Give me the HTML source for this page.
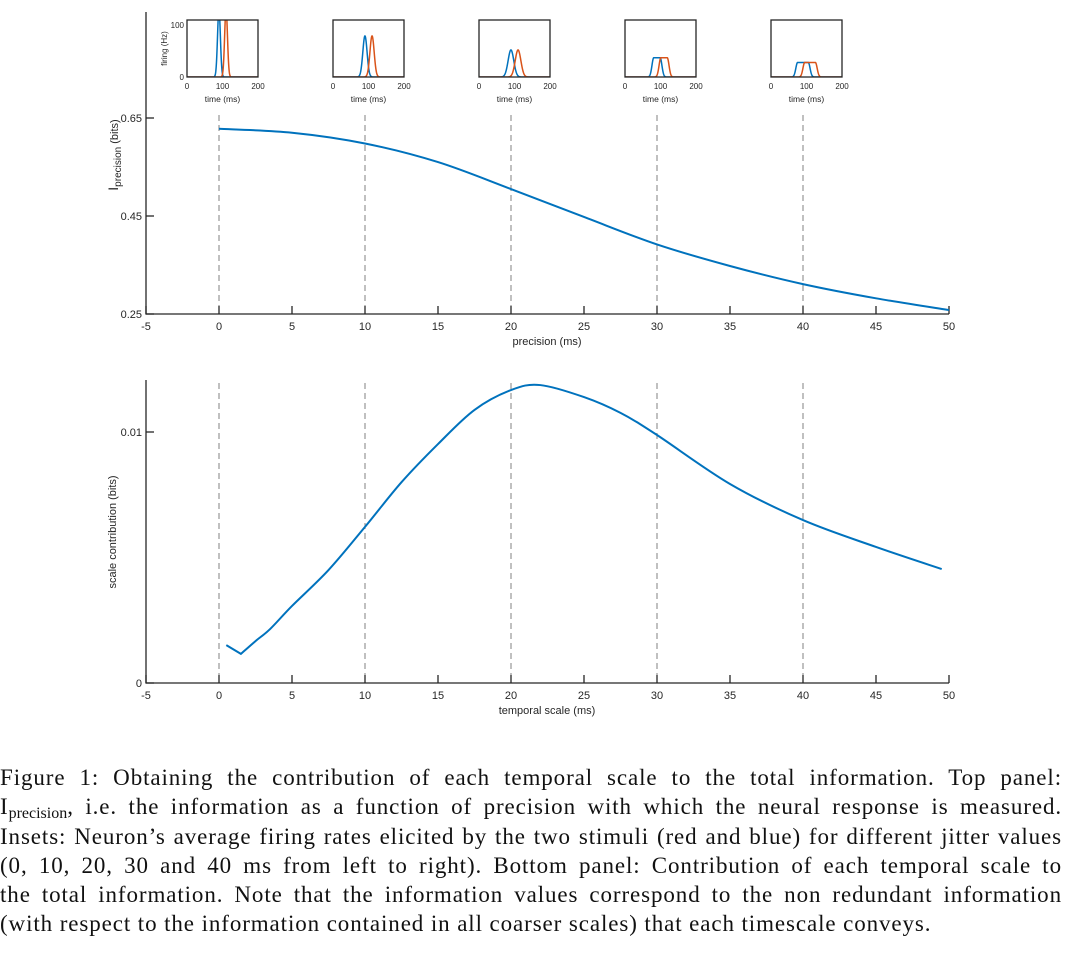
<!DOCTYPE html>
<html><head><meta charset="utf-8"><style>
body{margin:0;background:#fff;width:1071px;height:955px;overflow:hidden;position:relative}
svg text{font-family:"Liberation Sans",sans-serif;fill:#262626}
#cap{position:absolute;left:0;top:763px;width:1062px;font-family:"Liberation Serif",serif;font-size:23px;letter-spacing:0.9px;line-height:29.3px;color:#111}
#cap div{text-align:justify;text-align-last:justify;white-space:nowrap}
#cap div.last{text-align-last:left}
sub{font-size:16px;vertical-align:-4px;line-height:0;letter-spacing:0}
</style></head><body>
<svg id="fig" width="1071" height="760" style="position:absolute;left:0;top:0"></svg>
<div id="cap">
<div>Figure 1: Obtaining the contribution of each temporal scale to the total information. Top panel:</div>
<div>I<sub>precision</sub>, i.e. the information as a function of precision with which the neural response is measured.</div>
<div>Insets: Neuron’s average firing rates elicited by the two stimuli (red and blue) for different jitter values</div>
<div>(0, 10, 20, 30 and 40 ms from left to right). Bottom panel: Contribution of each temporal scale to</div>
<div>the total information. Note that the information values correspond to the non redundant information</div>
<div class="last">(with respect to the information contained in all coarser scales) that each timescale conveys.</div>
</div>
<script>
const topX=[0,5,10,15,20,25,30,35,40,45,50];
const topY=[0.628,0.620,0.598,0.560,0.505,0.448,0.392,0.348,0.311,0.282,0.258];
const botX=[0.5,1.5,2.5,3.5,5,7.5,10,12.5,15,17.5,20,22,25,27.5,30,35,40,45,49.5];
const botY=[0.00151,0.00116,0.00167,0.00215,0.00307,0.0045,0.00622,0.008,0.00952,0.01088,0.01167,0.01187,0.01139,0.01076,0.00988,0.00793,0.00649,0.00542,0.00454];
const xTicks=[-5,0,5,10,15,20,25,30,35,40,45,50];
const dashX=[0,10,20,30,40];
const insetJitter=[0,10,20,30,40];
const insetPeak=[130,79,52,37,28];
const insetSigma=[4,6,8,5,5];
const insetPlateau=[0,0,0,18,30];
const blueMean=90, redMean=110;

const NS='http://www.w3.org/2000/svg';
const svg=document.getElementById('fig');
function el(t,a,p){const e=document.createElementNS(NS,t);for(const k in a)e.setAttribute(k,a[k]);(p||svg).appendChild(e);return e;}
const X=v=>146+(v+5)*14.6;
const YT=v=>118+(0.65-v)*490;
const YB=v=>683-v*25100;
const BLUE='#0072BD',RED='#D95319',AX='#262626';

function smooth(pts,start){
  let d='M'+pts[0][0]+' '+pts[0][1];
  for(let i=start;i<pts.length-1;i++){
    const p0=pts[Math.max(i-1,0)],p1=pts[i],p2=pts[i+1],p3=pts[Math.min(i+2,pts.length-1)];
    const c1=[p1[0]+(p2[0]-p0[0])/6,p1[1]+(p2[1]-p0[1])/6],c2=[p2[0]-(p3[0]-p1[0])/6,p2[1]-(p3[1]-p1[1])/6];
    d+=`C${c1[0]} ${c1[1]} ${c2[0]} ${c2[1]} ${p2[0]} ${p2[1]}`;
  }
  return d;
}

function panel(y0,y1,yd,yticks,Y,xs,ys,xlab,name,lin){
  const g=el('g',{});
  
  
  dashX.forEach(d=>{const l=el('line',{x1:X(d),x2:X(d),y1:yd,y2:y1,stroke:'#808080','stroke-width':1,'stroke-dasharray':'6,4'},g);
    });
  const ax=el('path',{d:`M146 ${y0}V${y1}H949`,fill:'none',stroke:AX,'stroke-width':1.3},g);
  
  xTicks.forEach(t=>{el('line',{x1:X(t),x2:X(t),y1:y1,y2:y1-8,stroke:AX,'stroke-width':1.3},g);
    const tx=el('text',{x:X(t),y:y1+16,'font-size':11,'text-anchor':'middle'},g);tx.textContent=t;
    });
  yticks.forEach(t=>{el('line',{x1:146,x2:154,y1:Y(t.v),y2:Y(t.v),stroke:AX,'stroke-width':1.3},g);
    const tx=el('text',{x:142,y:Y(t.v)+4,'font-size':11,'text-anchor':'end'},g);tx.textContent=t.l;
    });
  const xl=el('text',{x:547,y:y1+31,'font-size':11,'text-anchor':'middle'},g);xl.textContent=xlab;
  
  const pts=xs.map((x,i)=>[X(x),Y(ys[i])]);
  let d;
  if(lin){d='M'+pts[0][0]+' '+pts[0][1]+'L'+pts[1][0]+' '+pts[1][1];const rest=pts.slice(1);d+=smooth(rest,0).replace(/^M[^C]*/,'');}
  else d=smooth(pts,0);
  const ln=el('path',{d:d,fill:'none',stroke:BLUE,'stroke-width':2},g);
  
  return g;
}
panel(12,314,115,[{v:0.65,l:'0.65'},{v:0.45,l:'0.45'},{v:0.25,l:'0.25'}],YT,topX,topY,'precision (ms)','top-panel',false);
panel(380,683,383,[{v:0.01,l:'0.01'},{v:0,l:'0'}],YB,botX,botY,'temporal scale (ms)','bottom-panel',true);
let t=el('text',{transform:'translate(118,155) rotate(-90)','font-size':11,'text-anchor':'middle'});
t.innerHTML='<tspan font-size="14">I</tspan><tspan font-size="10" dy="3">precision</tspan><tspan dy="-3"> (bits)</tspan>';

t=el('text',{transform:'translate(116,532) rotate(-90)','font-size':11,'text-anchor':'middle'});t.textContent='scale contribution (bits)';


function rate(tm,mean,i){
  const s=insetSigma[i],w=insetPlateau[i]/2;let d=0;
  if(tm<mean-w)d=mean-w-tm;else if(tm>mean+w)d=tm-mean-w;
  return insetPeak[i]*Math.exp(-d*d/(2*s*s));
}
insetJitter.forEach((j,i)=>{
  const L=187+i*146,R=L+71,T=20,B=77;
  const g=el('g',{});
  
  
  const ix=v=>L+v/200*71, iy=v=>B-v*0.52;
  const cid='c'+i;
  const cp=el('clipPath',{id:cid},g);el('rect',{x:L,y:T,width:71,height:57},cp);
  [[blueMean,BLUE],[redMean,RED]].forEach(([m,c])=>{
    const pts=[];for(let tm=0;tm<=200;tm+=0.5)pts.push(ix(tm)+','+iy(rate(tm,m,i)));
    const p=el('polyline',{points:pts.join(' '),fill:'none',stroke:c,'stroke-width':1.5,'clip-path':`url(#${cid})`},g);
    
  });
  el('rect',{x:L,y:T,width:71,height:57,fill:'none',stroke:AX,'stroke-width':1.3},g);
  [0,100,200].forEach(v=>{const tx=el('text',{x:ix(v),y:B+12,'font-size':8,'text-anchor':'middle'},g);tx.textContent=v;});
  const xl=el('text',{x:(L+R)/2,y:B+25,'font-size':8.5,'text-anchor':'middle'},g);xl.textContent='time (ms)';
  if(i===0){
    let a=el('text',{x:L-3,y:iy(100)+3,'font-size':8,'text-anchor':'end'},g);a.textContent='100';
    a=el('text',{x:L-3,y:B+3,'font-size':8,'text-anchor':'end'},g);a.textContent='0';
    a=el('text',{transform:`translate(${L-20},${(T+B)/2}) rotate(-90)`,'font-size':8,'text-anchor':'middle'},g);a.textContent='firing (Hz)';
  }
});
</script>
</body></html>
